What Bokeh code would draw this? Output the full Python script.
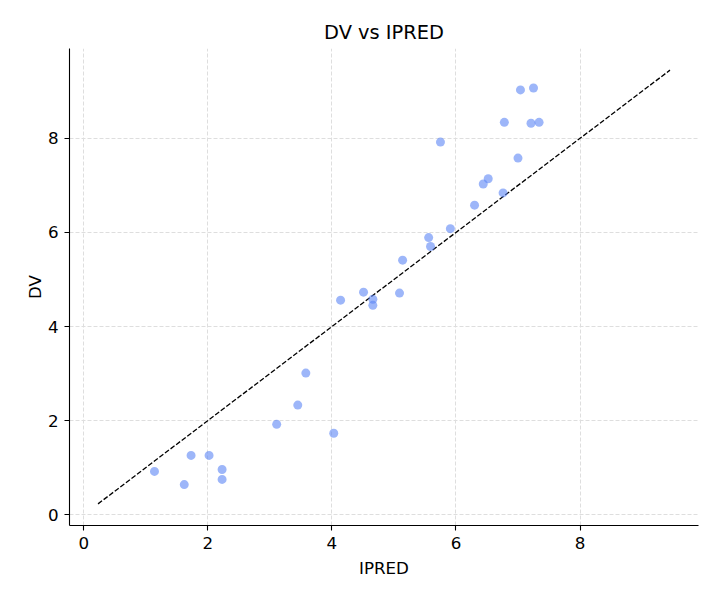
from bokeh.plotting import figure
from bokeh.models import Range1d, FixedTicker
from bokeh.embed import file_html
from bokeh.resources import INLINE

# Data
ipred = [1.14, 1.62, 1.73, 2.02, 2.23, 2.23, 3.11, 3.45, 3.58, 4.03,
         4.14, 4.51, 4.66, 4.66, 5.09, 5.14, 5.56, 5.59, 5.75, 5.91,
         6.30, 6.44, 6.52, 6.76, 6.78, 7.00, 7.04, 7.21, 7.25, 7.34]
dv = [0.92, 0.64, 1.26, 1.26, 0.96, 0.75, 1.92, 2.33, 3.01, 1.73,
      4.56, 4.73, 4.58, 4.45, 4.71, 5.41, 5.89, 5.70, 7.92, 6.08,
      6.58, 7.03, 7.14, 6.84, 8.34, 7.58, 9.03, 8.32, 9.07, 8.34]
identity_line = [0.23, 9.45]
tick_values = [0, 2, 4, 6, 8]

FONT = "DejaVu Sans"

p = figure(width=720, height=600, output_backend="svg", toolbar_location=None,
           title="DV vs IPRED",
           x_range=Range1d(-0.23, 9.91), y_range=Range1d(-0.23, 9.91),
           min_border_left=69, min_border_right=22,
           min_border_top=48, min_border_bottom=75)

p.outline_line_color = None
p.background_fill_color = "white"
p.border_fill_color = "white"

# title
p.title.text_font = FONT
p.title.text_font_size = "19.4px"
p.title.text_font_style = "normal"
p.title.align = "center"
p.title.text_color = "black"
p.title.standoff = 9

# grid
for g in (p.xgrid, p.ygrid):
    g.grid_line_color = "#dedede"
    g.grid_line_dash = "4 2"
    g.grid_line_width = 1
    g.ticker = FixedTicker(ticks=tick_values)

# axes
for ax in (p.xaxis, p.yaxis):
    ax.ticker = FixedTicker(ticks=tick_values)
    ax.axis_line_color = "black"
    ax.axis_line_width = 1.1
    ax.major_tick_line_color = "black"
    ax.major_tick_line_width = 1.1
    ax.major_tick_out = 5
    ax.major_tick_in = 0
    ax.minor_tick_line_color = None
    ax.major_label_text_font = FONT
    ax.major_label_text_font_size = "16.7px"
    ax.major_label_text_color = "black"
    ax.axis_label_text_font = FONT
    ax.axis_label_text_font_size = "16.7px"
    ax.axis_label_text_font_style = "normal"
    ax.axis_label_text_color = "black"

p.xaxis.axis_label = "IPRED"
p.yaxis.axis_label = "DV"
p.xaxis.major_label_standoff = 6
p.yaxis.major_label_standoff = 6
p.xaxis.axis_label_standoff = 6
p.yaxis.axis_label_standoff = 0

# identity line
p.line(identity_line, identity_line, line_color="black", line_width=1.3,
       line_dash="5 2")

# points
p.scatter(ipred, dv, size=9, fill_color="#5b86f5", fill_alpha=0.6,
          line_color=None)

open("out.html", "w").write(file_html(p, INLINE))
